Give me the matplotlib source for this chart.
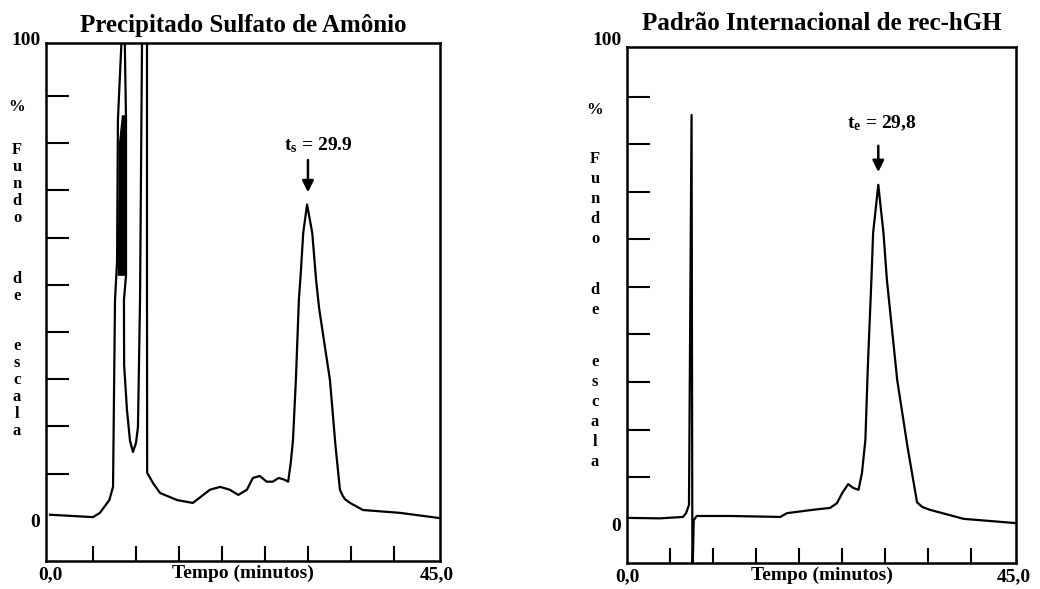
import matplotlib
matplotlib.use('Agg')
import matplotlib.pyplot as plt

plt.rcParams['font.family'] = 'Liberation Serif'
plt.rcParams['font.weight'] = 'bold'
plt.rcParams['axes.titleweight'] = 'bold'
plt.rcParams['axes.labelweight'] = 'bold'
plt.rcParams['mathtext.fontset'] = 'custom'
plt.rcParams['mathtext.rm'] = 'Liberation Serif:bold'
plt.rcParams['mathtext.it'] = 'Liberation Serif:bold'
plt.rcParams['mathtext.bf'] = 'Liberation Serif:bold'

# painel esquerdo: precipitado sulfato de amonio
tempo_a = [0, 5.0, 5.8, 6.9, 7.33, 7.56, 7.8, 7.9, 8.3, 8.55, 8.7, 8.84, 8.84, 8.6,
           8.62, 8.95, 9.3, 9.65, 10.0, 10.23, 10.47, 10.7, 11.0, 11.28, 11.28, 11.3,
           11.98, 12.8, 14.8, 16.6, 17.4, 18.6, 19.8, 20.9, 21.9, 22.9, 23.6, 24.4,
           25.2, 25.9, 26.6, 27.3, 27.7, 28.0, 28.26, 28.6, 28.95, 29.15, 29.45, 29.9,
           30.5, 30.95, 31.3, 32.56, 33.2, 33.72, 34.05, 34.3, 34.9, 36.4, 40.7, 45.3]
sinal_a = [1.3, 0.8, 1.7, 4.4, 7.2, 46.8, 55, 85, 101, 110, 101, 85, 52, 46.8,
           33, 23.5, 17, 14.6, 16.5, 19.9, 46.8, 101, 115, 101, 46.8, 10.2,
           8.0, 5.9, 4.4, 3.8, 4.9, 6.6, 7.2, 6.6, 5.5, 6.6, 9.1, 9.5,
           8.3, 8.3, 9.1, 8.7, 8.3, 12.3, 17.1, 30, 47, 52, 61, 67,
           61, 51, 45, 29.8, 16, 6.6, 5.3, 4.6, 3.8, 2.3, 1.7, 0.6]
# trecho saturado (mancha preta) do primeiro pico
banda_v = [52, 80, 86]
banda_esq = [7.8, 7.95, 8.3]
banda_dir = [8.84, 8.84, 8.72]

# painel direito: padrao internacional de rec-hGH
tempo_b = [0, 3.84, 6.5, 6.86, 7.2, 7.5, 7.6, 7.75, 8.1, 12.0, 17.8, 18.6, 21.6,
           23.6, 24.4, 25.0, 25.7, 26.3, 26.9, 27.3, 27.7, 28.0, 28.4, 28.6, 29.2,
           29.8, 30.2, 31.4, 32.6, 33.7, 34.3, 35.2, 39.1, 45.2]
sinal_b = [1.4, 1.3, 1.6, 2.4, 4.1, 86.2, -12, 0.9, 1.8, 1.8, 1.6, 2.4, 3.1,
           3.5, 4.5, 6.6, 8.5, 7.7, 7.3, 10.8, 17.8, 34, 51.5, 61.4, 71.5,
           61.4, 51.5, 30.4, 16.3, 4.7, 3.7, 3.1, 1.2, 0.3]

titulos = ['Precipitado Sulfato de Amônio', 'Padrão Internacional de rec-hGH']
pad_titulo = [8, 12]
rotulos_pico = [r't$_{s}$ = 29.9', r't$_{e}$ = 29,8']
pico_t = [30.0, 29.2]
seta_v = [(77, 69), (80.3, 73.6)]
texto_pos = [(31.2, 79.6), (29.65, 84.5)]
ticks_x = [5, 10, 15, 20, 25, 30, 35, 40]
ticks_y = [10, 20, 30, 40, 50, 60, 70, 80, 90]

fig = plt.figure(figsize=(10.4, 5.89), dpi=100)
ax1 = fig.add_axes([0.0442, 0.0475, 0.3788, 0.8795])
ax2 = fig.add_axes([0.6029, 0.0441, 0.3740, 0.8761])

ax1.plot(tempo_a, sinal_a, color='black', lw=1.6)
ax1.fill_betweenx(banda_v, banda_esq, banda_dir, color='black', lw=0)
ax2.plot(tempo_b, sinal_b, color='black', lw=1.6)

ax1.set_xlim(-0.47, 45.35)
ax1.set_ylim(-8.5, 101.2)
ax2.set_xlim(0, 45.2)
ax2.set_ylim(-8.1, 100.5)

for i, ax in enumerate([ax1, ax2]):
    for s in ax.spines.values():
        s.set_linewidth(1.8)
    ax.set_xticks([0, 45])
    ax.set_xticklabels(['0,0', '45,0'])
    ax.set_xticks(ticks_x, minor=True)
    ax.set_yticks([0, 100])
    ax.set_yticklabels(['0', '100'])
    ax.set_yticks(ticks_y, minor=True)
    ax.tick_params(which='major', length=0, labelsize=14, pad=4)
    ax.tick_params(axis='x', which='minor', direction='in', length=11, width=1.5)
    ax.tick_params(axis='y', which='minor', direction='in', length=16.5, width=1.5)
    ax.yaxis.get_ticklabels()[1].set_va('bottom')
    ax.set_xlabel('Tempo (minutos)', fontsize=14)
    ax.xaxis.set_label_coords(0.5, -0.008)
    ax.set_title(titulos[i], fontsize=18, pad=pad_titulo[i])

    ax.annotate('', xy=(pico_t[i], seta_v[i][1]), xytext=(pico_t[i], seta_v[i][0]),
                arrowprops=dict(arrowstyle='-|>', lw=1.8, color='black', mutation_scale=17))
    ax.text(texto_pos[i][0], texto_pos[i][1], rotulos_pico[i], ha='center', va='center',
            fontsize=14)

# rotulo vertical "% Fundo de escala", letra por letra
palavras = ['%', 'Fundo', 'de', 'escala']
pos_esq = [107, 184, 287.5, 388.5]
pos_dir = [110, 199, 300, 412]
for p, ya, yb in zip(palavras, pos_esq, pos_dir):
    fig.text(17 / 1040, 1 - ya / 589, '\n'.join(p), ha='center', va='center',
             fontsize=12, linespacing=1.08)
    fig.text(595 / 1040, 1 - yb / 589, '\n'.join(p), ha='center', va='center',
             fontsize=12, linespacing=1.35)

fig.savefig('out.png', dpi=100)
